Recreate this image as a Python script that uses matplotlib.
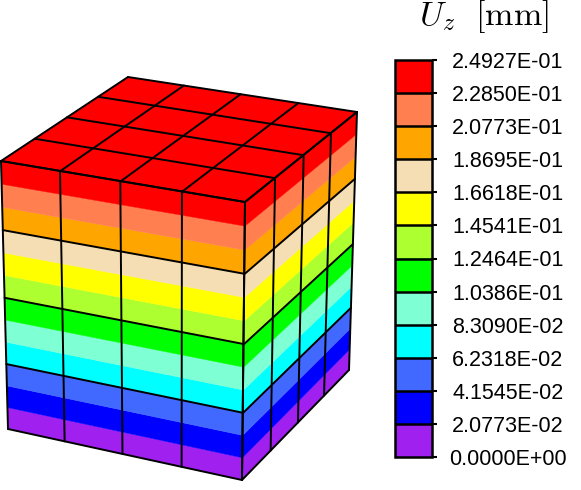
import numpy as np
import matplotlib
matplotlib.use("Agg")
import matplotlib.pyplot as plt
from matplotlib.colors import ListedColormap, BoundaryNorm
from matplotlib.cm import ScalarMappable

plt.rcParams['font.family'] = ['Liberation Sans', 'DejaVu Sans']
plt.rcParams['mathtext.fontset'] = 'cm'

W, H = 581, 490

# Contour levels and colours
tick_labels = ["0.0000E+00", "2.0773E-02", "4.1545E-02", "6.2318E-02", "8.3090E-02",
               "1.0386E-01", "1.2464E-01", "1.4541E-01", "1.6618E-01", "1.8695E-01",
               "2.0773E-01", "2.2850E-01", "2.4927E-01"]
levels = [0.0, 2.0773e-2, 4.1545e-2, 6.2318e-2, 8.3090e-2, 1.0386e-1, 1.2464e-1,
          1.4541e-1, 1.6618e-1, 1.8695e-1, 2.0773e-1, 2.2850e-1, 2.4927e-1]
colors = ["#a020f0", "#0000ff", "#4169ff", "#00ffff", "#7fffd4", "#00ff00",
          "#adff2f", "#ffff00", "#f5deb3", "#ffa500", "#ff7f50", "#ff0000"]

# Cube: outline as seen on screen (pixels) and mesh divisions
front_left_bottom = (8, 429)
front_left_top = (1, 161)
front_right_bottom = (242, 480)
front_right_top = (245, 202)
back_right_bottom = (349, 370)
back_right_top = (357, 112)
back_left_top = (128, 77)
n_elem_xy = 4
n_elem_z = 4
Uz_top = levels[-1]


def homography(quad):
    src = [(0, 0), (1, 0), (1, 1), (0, 1)]
    A, b = [], []
    for (u, v), (x, y) in zip(src, quad):
        A.append([u, v, 1, 0, 0, 0, -u * x, -v * x]); b.append(x)
        A.append([0, 0, 0, u, v, 1, -u * y, -v * y]); b.append(y)
    h = np.linalg.solve(np.array(A, float), np.array(b, float))
    M = np.append(h, 1).reshape(3, 3)

    def f(u, v):
        p = M @ np.array([u, v, 1.0])
        return p[0] / p[2], p[1] / p[2]
    return f


fig = plt.figure(figsize=(W / 100, H / 100), dpi=100)
ax = fig.add_axes([0, 0, 1, 1])
ax.set_xlim(0, W)
ax.set_ylim(H, 0)
ax.axis("off")

left = homography([front_left_bottom, front_right_bottom, front_right_top, front_left_top])
right = homography([front_right_bottom, back_right_bottom, back_right_top, front_right_top])
top = homography([front_left_top, front_right_top, back_right_top, back_left_top])


def fill(f, u0, u1, v0, v1, color):
    pts = [f(u0, v0), f(u1, v0), f(u1, v1), f(u0, v1)]
    ax.fill(*zip(*pts), facecolor=color, edgecolor=color, linewidth=0.3, zorder=1)


def line(f, a, b, lw=1.4):
    pts = [f(*a), f(*b)]
    ax.plot(*zip(*pts), color="black", lw=lw, solid_capstyle="round", zorder=3)


z = np.array(levels) / Uz_top
for i, c in enumerate(colors):
    fill(left, 0, 1, z[i], z[i + 1], c)
    fill(right, 0, 1, z[i], z[i + 1], c)
fill(top, 0, 1, 0, 1, colors[-1])

for k in np.linspace(0, 1, n_elem_xy + 1):
    for f in (left, right):
        line(f, (k, 0), (k, 1))
    line(top, (k, 0), (k, 1))
    line(top, (0, k), (1, k))
for k in np.linspace(0, 1, n_elem_z + 1):
    for f in (left, right):
        line(f, (0, k), (1, k))

# Colour bar
cax = fig.add_axes([395 / W, 1 - 457 / H, 37 / W, 397 / H])
pos = np.arange(len(levels))
sm = ScalarMappable(norm=BoundaryNorm(pos, len(colors)), cmap=ListedColormap(colors))
cb = fig.colorbar(sm, cax=cax, boundaries=pos, ticks=pos, spacing="uniform", drawedges=True)
cb.set_ticklabels(tick_labels)
cb.ax.tick_params(length=3.6, width=1.5, pad=51, labelsize=15.5, color="black")
for t in cb.ax.get_yticklabels():
    t.set_ha("center")
cb.outline.set_linewidth(1.8)
cb.outline.set_edgecolor("black")
cb.dividers.set_linewidth(1.8)
cb.dividers.set_color("black")

fig.text(484 / W, 1 - 17 / H, r"$U_z\ \ [\mathrm{mm}]$", fontsize=24.5, ha="center", va="center")

fig.savefig("out.png", dpi=100)
